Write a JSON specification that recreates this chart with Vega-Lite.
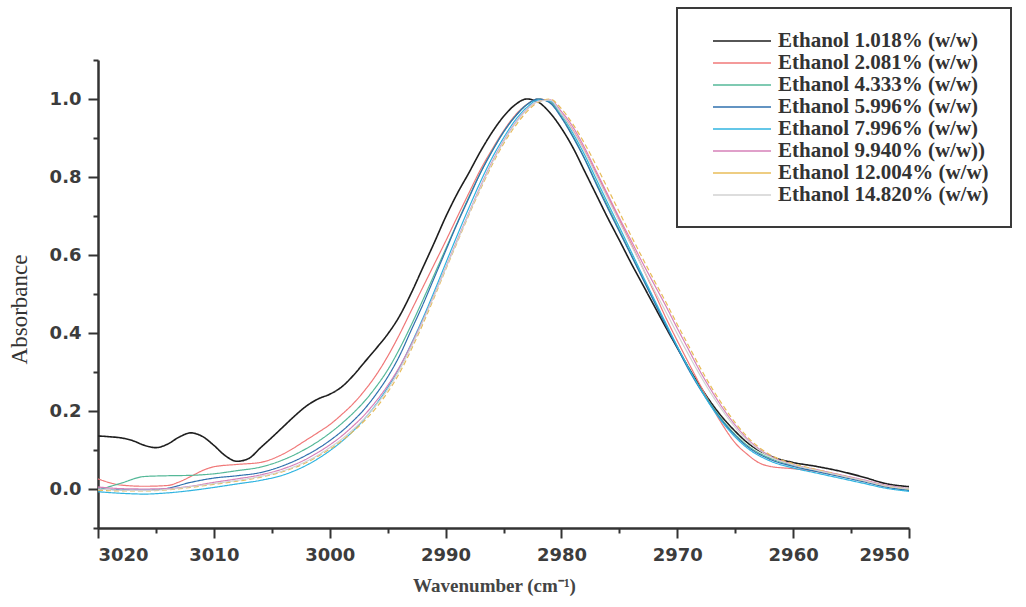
{
"$schema":"https://vega.github.io/schema/vega-lite/v6.json",
"width":811,"height":468,
"autosize":{"type":"none"},
"padding":{"left":98,"top":60,"right":117,"bottom":79},
"background":"white",
"config":{"view":{"stroke":null},"legend":{"strokeWidth":2}},
"data":{"values":[
{"w":3020,"s":"Ethanol 1.018% (w/w)","a":0.136},{"w":3019,"s":"Ethanol 1.018% (w/w)","a":0.134},{"w":3018,"s":"Ethanol 1.018% (w/w)","a":0.131},{"w":3017,"s":"Ethanol 1.018% (w/w)","a":0.124},{"w":3016,"s":"Ethanol 1.018% (w/w)","a":0.112},{"w":3015,"s":"Ethanol 1.018% (w/w)","a":0.106},{"w":3014,"s":"Ethanol 1.018% (w/w)","a":0.115},{"w":3013,"s":"Ethanol 1.018% (w/w)","a":0.133},{"w":3012,"s":"Ethanol 1.018% (w/w)","a":0.144},{"w":3011,"s":"Ethanol 1.018% (w/w)","a":0.135},{"w":3010,"s":"Ethanol 1.018% (w/w)","a":0.112},{"w":3009,"s":"Ethanol 1.018% (w/w)","a":0.085},{"w":3008,"s":"Ethanol 1.018% (w/w)","a":0.071},{"w":3007,"s":"Ethanol 1.018% (w/w)","a":0.078},{"w":3006,"s":"Ethanol 1.018% (w/w)","a":0.105},{"w":3005,"s":"Ethanol 1.018% (w/w)","a":0.132},{"w":3004,"s":"Ethanol 1.018% (w/w)","a":0.160},{"w":3003,"s":"Ethanol 1.018% (w/w)","a":0.188},{"w":3002,"s":"Ethanol 1.018% (w/w)","a":0.213},{"w":3001,"s":"Ethanol 1.018% (w/w)","a":0.231},{"w":3000,"s":"Ethanol 1.018% (w/w)","a":0.243},{"w":2999,"s":"Ethanol 1.018% (w/w)","a":0.261},{"w":2998,"s":"Ethanol 1.018% (w/w)","a":0.290},{"w":2997,"s":"Ethanol 1.018% (w/w)","a":0.325},{"w":2996,"s":"Ethanol 1.018% (w/w)","a":0.360},{"w":2995,"s":"Ethanol 1.018% (w/w)","a":0.397},{"w":2994,"s":"Ethanol 1.018% (w/w)","a":0.442},{"w":2993,"s":"Ethanol 1.018% (w/w)","a":0.500},{"w":2992,"s":"Ethanol 1.018% (w/w)","a":0.565},{"w":2991,"s":"Ethanol 1.018% (w/w)","a":0.630},{"w":2990,"s":"Ethanol 1.018% (w/w)","a":0.697},{"w":2989,"s":"Ethanol 1.018% (w/w)","a":0.757},{"w":2988,"s":"Ethanol 1.018% (w/w)","a":0.810},{"w":2987,"s":"Ethanol 1.018% (w/w)","a":0.865},{"w":2986,"s":"Ethanol 1.018% (w/w)","a":0.914},{"w":2985,"s":"Ethanol 1.018% (w/w)","a":0.955},{"w":2984,"s":"Ethanol 1.018% (w/w)","a":0.985},{"w":2983,"s":"Ethanol 1.018% (w/w)","a":1.000},{"w":2982,"s":"Ethanol 1.018% (w/w)","a":0.992},{"w":2981,"s":"Ethanol 1.018% (w/w)","a":0.965},{"w":2980,"s":"Ethanol 1.018% (w/w)","a":0.925},{"w":2979,"s":"Ethanol 1.018% (w/w)","a":0.875},{"w":2978,"s":"Ethanol 1.018% (w/w)","a":0.815},{"w":2977,"s":"Ethanol 1.018% (w/w)","a":0.755},{"w":2976,"s":"Ethanol 1.018% (w/w)","a":0.695},{"w":2975,"s":"Ethanol 1.018% (w/w)","a":0.638},{"w":2974,"s":"Ethanol 1.018% (w/w)","a":0.580},{"w":2973,"s":"Ethanol 1.018% (w/w)","a":0.525},{"w":2972,"s":"Ethanol 1.018% (w/w)","a":0.470},{"w":2971,"s":"Ethanol 1.018% (w/w)","a":0.415},{"w":2970,"s":"Ethanol 1.018% (w/w)","a":0.362},{"w":2969,"s":"Ethanol 1.018% (w/w)","a":0.310},{"w":2968,"s":"Ethanol 1.018% (w/w)","a":0.262},{"w":2967,"s":"Ethanol 1.018% (w/w)","a":0.218},{"w":2966,"s":"Ethanol 1.018% (w/w)","a":0.180},{"w":2965,"s":"Ethanol 1.018% (w/w)","a":0.148},{"w":2964,"s":"Ethanol 1.018% (w/w)","a":0.120},{"w":2962,"s":"Ethanol 1.018% (w/w)","a":0.085},{"w":2960,"s":"Ethanol 1.018% (w/w)","a":0.068},{"w":2958,"s":"Ethanol 1.018% (w/w)","a":0.058},{"w":2956,"s":"Ethanol 1.018% (w/w)","a":0.046},{"w":2954,"s":"Ethanol 1.018% (w/w)","a":0.031},{"w":2952,"s":"Ethanol 1.018% (w/w)","a":0.014},{"w":2950,"s":"Ethanol 1.018% (w/w)","a":0.006},
{"w":3020,"s":"Ethanol 2.081% (w/w)","a":0.026},{"w":3018,"s":"Ethanol 2.081% (w/w)","a":0.010},{"w":3016,"s":"Ethanol 2.081% (w/w)","a":0.007},{"w":3014,"s":"Ethanol 2.081% (w/w)","a":0.009},{"w":3013,"s":"Ethanol 2.081% (w/w)","a":0.018},{"w":3012,"s":"Ethanol 2.081% (w/w)","a":0.032},{"w":3011,"s":"Ethanol 2.081% (w/w)","a":0.047},{"w":3010,"s":"Ethanol 2.081% (w/w)","a":0.057},{"w":3008,"s":"Ethanol 2.081% (w/w)","a":0.063},{"w":3006,"s":"Ethanol 2.081% (w/w)","a":0.068},{"w":3004,"s":"Ethanol 2.081% (w/w)","a":0.090},{"w":3002,"s":"Ethanol 2.081% (w/w)","a":0.126},{"w":3001,"s":"Ethanol 2.081% (w/w)","a":0.145},{"w":3000,"s":"Ethanol 2.081% (w/w)","a":0.165},{"w":2999,"s":"Ethanol 2.081% (w/w)","a":0.190},{"w":2998,"s":"Ethanol 2.081% (w/w)","a":0.218},{"w":2997,"s":"Ethanol 2.081% (w/w)","a":0.252},{"w":2996,"s":"Ethanol 2.081% (w/w)","a":0.292},{"w":2995,"s":"Ethanol 2.081% (w/w)","a":0.340},{"w":2994,"s":"Ethanol 2.081% (w/w)","a":0.395},{"w":2993,"s":"Ethanol 2.081% (w/w)","a":0.455},{"w":2992,"s":"Ethanol 2.081% (w/w)","a":0.515},{"w":2991,"s":"Ethanol 2.081% (w/w)","a":0.575},{"w":2990,"s":"Ethanol 2.081% (w/w)","a":0.635},{"w":2989,"s":"Ethanol 2.081% (w/w)","a":0.697},{"w":2988,"s":"Ethanol 2.081% (w/w)","a":0.758},{"w":2987,"s":"Ethanol 2.081% (w/w)","a":0.818},{"w":2986,"s":"Ethanol 2.081% (w/w)","a":0.870},{"w":2985,"s":"Ethanol 2.081% (w/w)","a":0.918},{"w":2984,"s":"Ethanol 2.081% (w/w)","a":0.958},{"w":2983,"s":"Ethanol 2.081% (w/w)","a":0.986},{"w":2982,"s":"Ethanol 2.081% (w/w)","a":1.000},{"w":2981,"s":"Ethanol 2.081% (w/w)","a":0.993},{"w":2980,"s":"Ethanol 2.081% (w/w)","a":0.962},{"w":2979,"s":"Ethanol 2.081% (w/w)","a":0.920},{"w":2978,"s":"Ethanol 2.081% (w/w)","a":0.868},{"w":2977,"s":"Ethanol 2.081% (w/w)","a":0.810},{"w":2976,"s":"Ethanol 2.081% (w/w)","a":0.750},{"w":2975,"s":"Ethanol 2.081% (w/w)","a":0.690},{"w":2974,"s":"Ethanol 2.081% (w/w)","a":0.630},{"w":2973,"s":"Ethanol 2.081% (w/w)","a":0.568},{"w":2972,"s":"Ethanol 2.081% (w/w)","a":0.505},{"w":2971,"s":"Ethanol 2.081% (w/w)","a":0.440},{"w":2970,"s":"Ethanol 2.081% (w/w)","a":0.380},{"w":2969,"s":"Ethanol 2.081% (w/w)","a":0.322},{"w":2968,"s":"Ethanol 2.081% (w/w)","a":0.265},{"w":2967,"s":"Ethanol 2.081% (w/w)","a":0.210},{"w":2966,"s":"Ethanol 2.081% (w/w)","a":0.160},{"w":2965,"s":"Ethanol 2.081% (w/w)","a":0.118},{"w":2964,"s":"Ethanol 2.081% (w/w)","a":0.090},{"w":2963,"s":"Ethanol 2.081% (w/w)","a":0.068},{"w":2962,"s":"Ethanol 2.081% (w/w)","a":0.058},{"w":2960,"s":"Ethanol 2.081% (w/w)","a":0.052},{"w":2958,"s":"Ethanol 2.081% (w/w)","a":0.045},{"w":2956,"s":"Ethanol 2.081% (w/w)","a":0.034},{"w":2954,"s":"Ethanol 2.081% (w/w)","a":0.021},{"w":2952,"s":"Ethanol 2.081% (w/w)","a":0.007},{"w":2950,"s":"Ethanol 2.081% (w/w)","a":0.000},
{"w":3020,"s":"Ethanol 4.333% (w/w)","a":-0.003},{"w":3018,"s":"Ethanol 4.333% (w/w)","a":0.015},{"w":3016,"s":"Ethanol 4.333% (w/w)","a":0.032},{"w":3014,"s":"Ethanol 4.333% (w/w)","a":0.034},{"w":3012,"s":"Ethanol 4.333% (w/w)","a":0.035},{"w":3010,"s":"Ethanol 4.333% (w/w)","a":0.039},{"w":3008,"s":"Ethanol 4.333% (w/w)","a":0.047},{"w":3006,"s":"Ethanol 4.333% (w/w)","a":0.056},{"w":3004,"s":"Ethanol 4.333% (w/w)","a":0.075},{"w":3002,"s":"Ethanol 4.333% (w/w)","a":0.104},{"w":3001,"s":"Ethanol 4.333% (w/w)","a":0.122},{"w":3000,"s":"Ethanol 4.333% (w/w)","a":0.143},{"w":2999,"s":"Ethanol 4.333% (w/w)","a":0.167},{"w":2998,"s":"Ethanol 4.333% (w/w)","a":0.194},{"w":2997,"s":"Ethanol 4.333% (w/w)","a":0.225},{"w":2996,"s":"Ethanol 4.333% (w/w)","a":0.262},{"w":2995,"s":"Ethanol 4.333% (w/w)","a":0.305},{"w":2994,"s":"Ethanol 4.333% (w/w)","a":0.358},{"w":2993,"s":"Ethanol 4.333% (w/w)","a":0.418},{"w":2992,"s":"Ethanol 4.333% (w/w)","a":0.482},{"w":2991,"s":"Ethanol 4.333% (w/w)","a":0.548},{"w":2990,"s":"Ethanol 4.333% (w/w)","a":0.615},{"w":2989,"s":"Ethanol 4.333% (w/w)","a":0.682},{"w":2988,"s":"Ethanol 4.333% (w/w)","a":0.748},{"w":2987,"s":"Ethanol 4.333% (w/w)","a":0.810},{"w":2986,"s":"Ethanol 4.333% (w/w)","a":0.866},{"w":2985,"s":"Ethanol 4.333% (w/w)","a":0.915},{"w":2984,"s":"Ethanol 4.333% (w/w)","a":0.955},{"w":2983,"s":"Ethanol 4.333% (w/w)","a":0.985},{"w":2982,"s":"Ethanol 4.333% (w/w)","a":1.000},{"w":2981,"s":"Ethanol 4.333% (w/w)","a":0.992},{"w":2980,"s":"Ethanol 4.333% (w/w)","a":0.955},{"w":2979,"s":"Ethanol 4.333% (w/w)","a":0.905},{"w":2978,"s":"Ethanol 4.333% (w/w)","a":0.848},{"w":2977,"s":"Ethanol 4.333% (w/w)","a":0.786},{"w":2976,"s":"Ethanol 4.333% (w/w)","a":0.725},{"w":2975,"s":"Ethanol 4.333% (w/w)","a":0.664},{"w":2974,"s":"Ethanol 4.333% (w/w)","a":0.603},{"w":2973,"s":"Ethanol 4.333% (w/w)","a":0.543},{"w":2972,"s":"Ethanol 4.333% (w/w)","a":0.483},{"w":2971,"s":"Ethanol 4.333% (w/w)","a":0.423},{"w":2970,"s":"Ethanol 4.333% (w/w)","a":0.365},{"w":2969,"s":"Ethanol 4.333% (w/w)","a":0.309},{"w":2968,"s":"Ethanol 4.333% (w/w)","a":0.258},{"w":2967,"s":"Ethanol 4.333% (w/w)","a":0.213},{"w":2966,"s":"Ethanol 4.333% (w/w)","a":0.173},{"w":2965,"s":"Ethanol 4.333% (w/w)","a":0.140},{"w":2964,"s":"Ethanol 4.333% (w/w)","a":0.113},{"w":2962,"s":"Ethanol 4.333% (w/w)","a":0.079},{"w":2960,"s":"Ethanol 4.333% (w/w)","a":0.061},{"w":2958,"s":"Ethanol 4.333% (w/w)","a":0.048},{"w":2956,"s":"Ethanol 4.333% (w/w)","a":0.035},{"w":2954,"s":"Ethanol 4.333% (w/w)","a":0.022},{"w":2952,"s":"Ethanol 4.333% (w/w)","a":0.008},{"w":2950,"s":"Ethanol 4.333% (w/w)","a":-0.002},
{"w":3020,"s":"Ethanol 5.996% (w/w)","a":0.000},{"w":3018,"s":"Ethanol 5.996% (w/w)","a":-0.002},{"w":3016,"s":"Ethanol 5.996% (w/w)","a":-0.003},{"w":3014,"s":"Ethanol 5.996% (w/w)","a":0.002},{"w":3012,"s":"Ethanol 5.996% (w/w)","a":0.017},{"w":3010,"s":"Ethanol 5.996% (w/w)","a":0.028},{"w":3008,"s":"Ethanol 5.996% (w/w)","a":0.034},{"w":3006,"s":"Ethanol 5.996% (w/w)","a":0.042},{"w":3004,"s":"Ethanol 5.996% (w/w)","a":0.060},{"w":3002,"s":"Ethanol 5.996% (w/w)","a":0.087},{"w":3001,"s":"Ethanol 5.996% (w/w)","a":0.104},{"w":3000,"s":"Ethanol 5.996% (w/w)","a":0.124},{"w":2999,"s":"Ethanol 5.996% (w/w)","a":0.147},{"w":2998,"s":"Ethanol 5.996% (w/w)","a":0.174},{"w":2997,"s":"Ethanol 5.996% (w/w)","a":0.205},{"w":2996,"s":"Ethanol 5.996% (w/w)","a":0.243},{"w":2995,"s":"Ethanol 5.996% (w/w)","a":0.287},{"w":2994,"s":"Ethanol 5.996% (w/w)","a":0.340},{"w":2993,"s":"Ethanol 5.996% (w/w)","a":0.405},{"w":2992,"s":"Ethanol 5.996% (w/w)","a":0.470},{"w":2991,"s":"Ethanol 5.996% (w/w)","a":0.540},{"w":2990,"s":"Ethanol 5.996% (w/w)","a":0.610},{"w":2989,"s":"Ethanol 5.996% (w/w)","a":0.680},{"w":2988,"s":"Ethanol 5.996% (w/w)","a":0.745},{"w":2987,"s":"Ethanol 5.996% (w/w)","a":0.810},{"w":2986,"s":"Ethanol 5.996% (w/w)","a":0.865},{"w":2985,"s":"Ethanol 5.996% (w/w)","a":0.915},{"w":2984,"s":"Ethanol 5.996% (w/w)","a":0.955},{"w":2983,"s":"Ethanol 5.996% (w/w)","a":0.985},{"w":2982,"s":"Ethanol 5.996% (w/w)","a":1.000},{"w":2981,"s":"Ethanol 5.996% (w/w)","a":0.990},{"w":2980,"s":"Ethanol 5.996% (w/w)","a":0.952},{"w":2979,"s":"Ethanol 5.996% (w/w)","a":0.902},{"w":2978,"s":"Ethanol 5.996% (w/w)","a":0.846},{"w":2977,"s":"Ethanol 5.996% (w/w)","a":0.782},{"w":2976,"s":"Ethanol 5.996% (w/w)","a":0.720},{"w":2975,"s":"Ethanol 5.996% (w/w)","a":0.660},{"w":2974,"s":"Ethanol 5.996% (w/w)","a":0.600},{"w":2973,"s":"Ethanol 5.996% (w/w)","a":0.540},{"w":2972,"s":"Ethanol 5.996% (w/w)","a":0.480},{"w":2971,"s":"Ethanol 5.996% (w/w)","a":0.420},{"w":2970,"s":"Ethanol 5.996% (w/w)","a":0.362},{"w":2969,"s":"Ethanol 5.996% (w/w)","a":0.305},{"w":2968,"s":"Ethanol 5.996% (w/w)","a":0.255},{"w":2967,"s":"Ethanol 5.996% (w/w)","a":0.210},{"w":2966,"s":"Ethanol 5.996% (w/w)","a":0.170},{"w":2965,"s":"Ethanol 5.996% (w/w)","a":0.137},{"w":2964,"s":"Ethanol 5.996% (w/w)","a":0.110},{"w":2962,"s":"Ethanol 5.996% (w/w)","a":0.076},{"w":2960,"s":"Ethanol 5.996% (w/w)","a":0.058},{"w":2958,"s":"Ethanol 5.996% (w/w)","a":0.045},{"w":2956,"s":"Ethanol 5.996% (w/w)","a":0.032},{"w":2954,"s":"Ethanol 5.996% (w/w)","a":0.019},{"w":2952,"s":"Ethanol 5.996% (w/w)","a":0.005},{"w":2950,"s":"Ethanol 5.996% (w/w)","a":-0.004},
{"w":3020,"s":"Ethanol 7.996% (w/w)","a":-0.007},{"w":3018,"s":"Ethanol 7.996% (w/w)","a":-0.011},{"w":3016,"s":"Ethanol 7.996% (w/w)","a":-0.013},{"w":3014,"s":"Ethanol 7.996% (w/w)","a":-0.010},{"w":3012,"s":"Ethanol 7.996% (w/w)","a":-0.004},{"w":3010,"s":"Ethanol 7.996% (w/w)","a":0.004},{"w":3008,"s":"Ethanol 7.996% (w/w)","a":0.013},{"w":3006,"s":"Ethanol 7.996% (w/w)","a":0.022},{"w":3004,"s":"Ethanol 7.996% (w/w)","a":0.036},{"w":3002,"s":"Ethanol 7.996% (w/w)","a":0.061},{"w":3001,"s":"Ethanol 7.996% (w/w)","a":0.078},{"w":3000,"s":"Ethanol 7.996% (w/w)","a":0.098},{"w":2999,"s":"Ethanol 7.996% (w/w)","a":0.121},{"w":2998,"s":"Ethanol 7.996% (w/w)","a":0.148},{"w":2997,"s":"Ethanol 7.996% (w/w)","a":0.180},{"w":2996,"s":"Ethanol 7.996% (w/w)","a":0.217},{"w":2995,"s":"Ethanol 7.996% (w/w)","a":0.260},{"w":2994,"s":"Ethanol 7.996% (w/w)","a":0.310},{"w":2993,"s":"Ethanol 7.996% (w/w)","a":0.370},{"w":2992,"s":"Ethanol 7.996% (w/w)","a":0.435},{"w":2991,"s":"Ethanol 7.996% (w/w)","a":0.505},{"w":2990,"s":"Ethanol 7.996% (w/w)","a":0.578},{"w":2989,"s":"Ethanol 7.996% (w/w)","a":0.650},{"w":2988,"s":"Ethanol 7.996% (w/w)","a":0.720},{"w":2987,"s":"Ethanol 7.996% (w/w)","a":0.787},{"w":2986,"s":"Ethanol 7.996% (w/w)","a":0.848},{"w":2985,"s":"Ethanol 7.996% (w/w)","a":0.900},{"w":2984,"s":"Ethanol 7.996% (w/w)","a":0.945},{"w":2983,"s":"Ethanol 7.996% (w/w)","a":0.978},{"w":2982,"s":"Ethanol 7.996% (w/w)","a":0.997},{"w":2981,"s":"Ethanol 7.996% (w/w)","a":0.995},{"w":2980,"s":"Ethanol 7.996% (w/w)","a":0.960},{"w":2979,"s":"Ethanol 7.996% (w/w)","a":0.912},{"w":2978,"s":"Ethanol 7.996% (w/w)","a":0.857},{"w":2977,"s":"Ethanol 7.996% (w/w)","a":0.795},{"w":2976,"s":"Ethanol 7.996% (w/w)","a":0.733},{"w":2975,"s":"Ethanol 7.996% (w/w)","a":0.672},{"w":2974,"s":"Ethanol 7.996% (w/w)","a":0.610},{"w":2973,"s":"Ethanol 7.996% (w/w)","a":0.548},{"w":2972,"s":"Ethanol 7.996% (w/w)","a":0.487},{"w":2971,"s":"Ethanol 7.996% (w/w)","a":0.426},{"w":2970,"s":"Ethanol 7.996% (w/w)","a":0.366},{"w":2969,"s":"Ethanol 7.996% (w/w)","a":0.309},{"w":2968,"s":"Ethanol 7.996% (w/w)","a":0.256},{"w":2967,"s":"Ethanol 7.996% (w/w)","a":0.208},{"w":2966,"s":"Ethanol 7.996% (w/w)","a":0.167},{"w":2965,"s":"Ethanol 7.996% (w/w)","a":0.133},{"w":2964,"s":"Ethanol 7.996% (w/w)","a":0.106},{"w":2962,"s":"Ethanol 7.996% (w/w)","a":0.072},{"w":2960,"s":"Ethanol 7.996% (w/w)","a":0.054},{"w":2958,"s":"Ethanol 7.996% (w/w)","a":0.041},{"w":2956,"s":"Ethanol 7.996% (w/w)","a":0.028},{"w":2954,"s":"Ethanol 7.996% (w/w)","a":0.015},{"w":2952,"s":"Ethanol 7.996% (w/w)","a":0.002},{"w":2950,"s":"Ethanol 7.996% (w/w)","a":-0.006},
{"w":3020,"s":"Ethanol 9.940% (w/w))","a":0.005},{"w":3018,"s":"Ethanol 9.940% (w/w))","a":0.001},{"w":3016,"s":"Ethanol 9.940% (w/w))","a":0.000},{"w":3014,"s":"Ethanol 9.940% (w/w))","a":0.001},{"w":3012,"s":"Ethanol 9.940% (w/w))","a":0.007},{"w":3010,"s":"Ethanol 9.940% (w/w))","a":0.017},{"w":3008,"s":"Ethanol 9.940% (w/w))","a":0.026},{"w":3006,"s":"Ethanol 9.940% (w/w))","a":0.036},{"w":3004,"s":"Ethanol 9.940% (w/w))","a":0.052},{"w":3002,"s":"Ethanol 9.940% (w/w))","a":0.077},{"w":3001,"s":"Ethanol 9.940% (w/w))","a":0.094},{"w":3000,"s":"Ethanol 9.940% (w/w))","a":0.113},{"w":2999,"s":"Ethanol 9.940% (w/w))","a":0.135},{"w":2998,"s":"Ethanol 9.940% (w/w))","a":0.161},{"w":2997,"s":"Ethanol 9.940% (w/w))","a":0.190},{"w":2996,"s":"Ethanol 9.940% (w/w))","a":0.225},{"w":2995,"s":"Ethanol 9.940% (w/w))","a":0.265},{"w":2994,"s":"Ethanol 9.940% (w/w))","a":0.312},{"w":2993,"s":"Ethanol 9.940% (w/w))","a":0.368},{"w":2992,"s":"Ethanol 9.940% (w/w))","a":0.430},{"w":2991,"s":"Ethanol 9.940% (w/w))","a":0.497},{"w":2990,"s":"Ethanol 9.940% (w/w))","a":0.567},{"w":2989,"s":"Ethanol 9.940% (w/w))","a":0.638},{"w":2988,"s":"Ethanol 9.940% (w/w))","a":0.707},{"w":2987,"s":"Ethanol 9.940% (w/w))","a":0.775},{"w":2986,"s":"Ethanol 9.940% (w/w))","a":0.838},{"w":2985,"s":"Ethanol 9.940% (w/w))","a":0.892},{"w":2984,"s":"Ethanol 9.940% (w/w))","a":0.938},{"w":2983,"s":"Ethanol 9.940% (w/w))","a":0.973},{"w":2982,"s":"Ethanol 9.940% (w/w))","a":0.994},{"w":2981,"s":"Ethanol 9.940% (w/w))","a":0.998},{"w":2980,"s":"Ethanol 9.940% (w/w))","a":0.968},{"w":2979,"s":"Ethanol 9.940% (w/w))","a":0.928},{"w":2978,"s":"Ethanol 9.940% (w/w))","a":0.875},{"w":2977,"s":"Ethanol 9.940% (w/w))","a":0.815},{"w":2976,"s":"Ethanol 9.940% (w/w))","a":0.755},{"w":2975,"s":"Ethanol 9.940% (w/w))","a":0.695},{"w":2974,"s":"Ethanol 9.940% (w/w))","a":0.638},{"w":2973,"s":"Ethanol 9.940% (w/w))","a":0.580},{"w":2972,"s":"Ethanol 9.940% (w/w))","a":0.525},{"w":2971,"s":"Ethanol 9.940% (w/w))","a":0.470},{"w":2970,"s":"Ethanol 9.940% (w/w))","a":0.412},{"w":2969,"s":"Ethanol 9.940% (w/w))","a":0.356},{"w":2968,"s":"Ethanol 9.940% (w/w))","a":0.300},{"w":2967,"s":"Ethanol 9.940% (w/w))","a":0.250},{"w":2966,"s":"Ethanol 9.940% (w/w))","a":0.204},{"w":2965,"s":"Ethanol 9.940% (w/w))","a":0.164},{"w":2964,"s":"Ethanol 9.940% (w/w))","a":0.130},{"w":2962,"s":"Ethanol 9.940% (w/w))","a":0.085},{"w":2960,"s":"Ethanol 9.940% (w/w))","a":0.063},{"w":2958,"s":"Ethanol 9.940% (w/w))","a":0.050},{"w":2956,"s":"Ethanol 9.940% (w/w))","a":0.037},{"w":2954,"s":"Ethanol 9.940% (w/w))","a":0.024},{"w":2952,"s":"Ethanol 9.940% (w/w))","a":0.010},{"w":2950,"s":"Ethanol 9.940% (w/w))","a":0.001},
{"w":3020,"s":"Ethanol 12.004% (w/w)","a":-0.003},{"w":3018,"s":"Ethanol 12.004% (w/w)","a":-0.005},{"w":3016,"s":"Ethanol 12.004% (w/w)","a":-0.005},{"w":3014,"s":"Ethanol 12.004% (w/w)","a":-0.002},{"w":3012,"s":"Ethanol 12.004% (w/w)","a":0.004},{"w":3010,"s":"Ethanol 12.004% (w/w)","a":0.012},{"w":3008,"s":"Ethanol 12.004% (w/w)","a":0.020},{"w":3006,"s":"Ethanol 12.004% (w/w)","a":0.030},{"w":3004,"s":"Ethanol 12.004% (w/w)","a":0.045},{"w":3002,"s":"Ethanol 12.004% (w/w)","a":0.068},{"w":3001,"s":"Ethanol 12.004% (w/w)","a":0.084},{"w":3000,"s":"Ethanol 12.004% (w/w)","a":0.102},{"w":2999,"s":"Ethanol 12.004% (w/w)","a":0.123},{"w":2998,"s":"Ethanol 12.004% (w/w)","a":0.147},{"w":2997,"s":"Ethanol 12.004% (w/w)","a":0.175},{"w":2996,"s":"Ethanol 12.004% (w/w)","a":0.208},{"w":2995,"s":"Ethanol 12.004% (w/w)","a":0.248},{"w":2994,"s":"Ethanol 12.004% (w/w)","a":0.296},{"w":2993,"s":"Ethanol 12.004% (w/w)","a":0.355},{"w":2992,"s":"Ethanol 12.004% (w/w)","a":0.420},{"w":2991,"s":"Ethanol 12.004% (w/w)","a":0.490},{"w":2990,"s":"Ethanol 12.004% (w/w)","a":0.562},{"w":2989,"s":"Ethanol 12.004% (w/w)","a":0.632},{"w":2988,"s":"Ethanol 12.004% (w/w)","a":0.702},{"w":2987,"s":"Ethanol 12.004% (w/w)","a":0.768},{"w":2986,"s":"Ethanol 12.004% (w/w)","a":0.830},{"w":2985,"s":"Ethanol 12.004% (w/w)","a":0.885},{"w":2984,"s":"Ethanol 12.004% (w/w)","a":0.930},{"w":2983,"s":"Ethanol 12.004% (w/w)","a":0.967},{"w":2982,"s":"Ethanol 12.004% (w/w)","a":0.992},{"w":2981,"s":"Ethanol 12.004% (w/w)","a":1.000},{"w":2980,"s":"Ethanol 12.004% (w/w)","a":0.975},{"w":2979,"s":"Ethanol 12.004% (w/w)","a":0.935},{"w":2978,"s":"Ethanol 12.004% (w/w)","a":0.886},{"w":2977,"s":"Ethanol 12.004% (w/w)","a":0.830},{"w":2976,"s":"Ethanol 12.004% (w/w)","a":0.770},{"w":2975,"s":"Ethanol 12.004% (w/w)","a":0.710},{"w":2974,"s":"Ethanol 12.004% (w/w)","a":0.650},{"w":2973,"s":"Ethanol 12.004% (w/w)","a":0.592},{"w":2972,"s":"Ethanol 12.004% (w/w)","a":0.535},{"w":2971,"s":"Ethanol 12.004% (w/w)","a":0.480},{"w":2970,"s":"Ethanol 12.004% (w/w)","a":0.422},{"w":2969,"s":"Ethanol 12.004% (w/w)","a":0.366},{"w":2968,"s":"Ethanol 12.004% (w/w)","a":0.310},{"w":2967,"s":"Ethanol 12.004% (w/w)","a":0.258},{"w":2966,"s":"Ethanol 12.004% (w/w)","a":0.212},{"w":2965,"s":"Ethanol 12.004% (w/w)","a":0.170},{"w":2964,"s":"Ethanol 12.004% (w/w)","a":0.135},{"w":2962,"s":"Ethanol 12.004% (w/w)","a":0.088},{"w":2960,"s":"Ethanol 12.004% (w/w)","a":0.065},{"w":2958,"s":"Ethanol 12.004% (w/w)","a":0.050},{"w":2956,"s":"Ethanol 12.004% (w/w)","a":0.036},{"w":2954,"s":"Ethanol 12.004% (w/w)","a":0.022},{"w":2952,"s":"Ethanol 12.004% (w/w)","a":0.008},{"w":2950,"s":"Ethanol 12.004% (w/w)","a":0.000},
{"w":3020,"s":"Ethanol 14.820% (w/w)","a":0.000},{"w":3018,"s":"Ethanol 14.820% (w/w)","a":-0.003},{"w":3016,"s":"Ethanol 14.820% (w/w)","a":-0.004},{"w":3014,"s":"Ethanol 14.820% (w/w)","a":-0.001},{"w":3012,"s":"Ethanol 14.820% (w/w)","a":0.006},{"w":3010,"s":"Ethanol 14.820% (w/w)","a":0.014},{"w":3008,"s":"Ethanol 14.820% (w/w)","a":0.022},{"w":3006,"s":"Ethanol 14.820% (w/w)","a":0.032},{"w":3004,"s":"Ethanol 14.820% (w/w)","a":0.047},{"w":3002,"s":"Ethanol 14.820% (w/w)","a":0.071},{"w":3001,"s":"Ethanol 14.820% (w/w)","a":0.087},{"w":3000,"s":"Ethanol 14.820% (w/w)","a":0.106},{"w":2999,"s":"Ethanol 14.820% (w/w)","a":0.127},{"w":2998,"s":"Ethanol 14.820% (w/w)","a":0.152},{"w":2997,"s":"Ethanol 14.820% (w/w)","a":0.181},{"w":2996,"s":"Ethanol 14.820% (w/w)","a":0.215},{"w":2995,"s":"Ethanol 14.820% (w/w)","a":0.255},{"w":2994,"s":"Ethanol 14.820% (w/w)","a":0.304},{"w":2993,"s":"Ethanol 14.820% (w/w)","a":0.362},{"w":2992,"s":"Ethanol 14.820% (w/w)","a":0.427},{"w":2991,"s":"Ethanol 14.820% (w/w)","a":0.495},{"w":2990,"s":"Ethanol 14.820% (w/w)","a":0.565},{"w":2989,"s":"Ethanol 14.820% (w/w)","a":0.635},{"w":2988,"s":"Ethanol 14.820% (w/w)","a":0.705},{"w":2987,"s":"Ethanol 14.820% (w/w)","a":0.772},{"w":2986,"s":"Ethanol 14.820% (w/w)","a":0.835},{"w":2985,"s":"Ethanol 14.820% (w/w)","a":0.890},{"w":2984,"s":"Ethanol 14.820% (w/w)","a":0.936},{"w":2983,"s":"Ethanol 14.820% (w/w)","a":0.972},{"w":2982,"s":"Ethanol 14.820% (w/w)","a":0.994},{"w":2981,"s":"Ethanol 14.820% (w/w)","a":0.997},{"w":2980,"s":"Ethanol 14.820% (w/w)","a":0.962},{"w":2979,"s":"Ethanol 14.820% (w/w)","a":0.918},{"w":2978,"s":"Ethanol 14.820% (w/w)","a":0.865},{"w":2977,"s":"Ethanol 14.820% (w/w)","a":0.805},{"w":2976,"s":"Ethanol 14.820% (w/w)","a":0.745},{"w":2975,"s":"Ethanol 14.820% (w/w)","a":0.685},{"w":2974,"s":"Ethanol 14.820% (w/w)","a":0.626},{"w":2973,"s":"Ethanol 14.820% (w/w)","a":0.568},{"w":2972,"s":"Ethanol 14.820% (w/w)","a":0.511},{"w":2971,"s":"Ethanol 14.820% (w/w)","a":0.455},{"w":2970,"s":"Ethanol 14.820% (w/w)","a":0.398},{"w":2969,"s":"Ethanol 14.820% (w/w)","a":0.343},{"w":2968,"s":"Ethanol 14.820% (w/w)","a":0.290},{"w":2967,"s":"Ethanol 14.820% (w/w)","a":0.241},{"w":2966,"s":"Ethanol 14.820% (w/w)","a":0.197},{"w":2965,"s":"Ethanol 14.820% (w/w)","a":0.158},{"w":2964,"s":"Ethanol 14.820% (w/w)","a":0.126},{"w":2962,"s":"Ethanol 14.820% (w/w)","a":0.083},{"w":2960,"s":"Ethanol 14.820% (w/w)","a":0.062},{"w":2958,"s":"Ethanol 14.820% (w/w)","a":0.048},{"w":2956,"s":"Ethanol 14.820% (w/w)","a":0.035},{"w":2954,"s":"Ethanol 14.820% (w/w)","a":0.022},{"w":2952,"s":"Ethanol 14.820% (w/w)","a":0.008},{"w":2950,"s":"Ethanol 14.820% (w/w)","a":0.000}
]},
"mark":{"type":"line","interpolate":"monotone"},
"encoding":{
"x":{"field":"w","type":"quantitative","title":"Wavenumber (cm⁻¹)",
 "scale":{"domain":[2950,3020],"reverse":true,"nice":false,"zero":false},
 "axis":{"values":[3020,3015,3010,3005,3000,2995,2990,2985,2980,2975,2970,2965,2960,2955,2950],"format":"d",
  "labelExpr":"datum.value % 10 == 0 ? datum.label : ''",
  "tickSize":{"condition":{"test":"datum.value % 10 == 0","value":10},"value":5},
  "grid":false,"domainColor":"#333","domainWidth":2.5,"tickColor":"#333","tickWidth":2,
  "labelFont":"DejaVu Sans","labelFontWeight":"bold","labelFontSize":18,"labelColor":"#3c3c3c","labelPadding":8,
  "titleFont":"Liberation Serif","titleFontWeight":"bold","titleFontSize":19,"titleColor":"#444","titlePadding":12,"titleX":396}},
"y":{"field":"a","type":"quantitative","title":"Absorbance",
 "scale":{"domain":[-0.1,1.1],"nice":false,"zero":false},
 "axis":{"values":[-0.1,0,0.1,0.2,0.3,0.4,0.5,0.6,0.7,0.8,0.9,1.0,1.1],"format":".1f",
  "labelExpr":"(abs(round(datum.value*10)) % 2 == 0 && datum.value > -0.05 && datum.value < 1.05) ? datum.label : ''",
  "tickSize":{"condition":{"test":"abs(round(datum.value*10)) % 2 == 0","value":10},"value":5},
  "grid":false,"domainColor":"#333","domainWidth":2.5,"tickColor":"#333","tickWidth":2,
  "labelFont":"DejaVu Sans","labelFontWeight":"bold","labelFontSize":18,"labelColor":"#3c3c3c","labelPadding":7,
  "titleFont":"Liberation Serif","titleFontWeight":"normal","titleFontSize":23,"titleColor":"#333",
  "titleX":-79,"titleY":249,"titleAlign":"center","titleBaseline":"middle","titleAngle":-90}},
"color":{"field":"s","type":"nominal",
 "scale":{"domain":["Ethanol 1.018% (w/w)","Ethanol 2.081% (w/w)","Ethanol 4.333% (w/w)","Ethanol 5.996% (w/w)","Ethanol 7.996% (w/w)","Ethanol 9.940% (w/w))","Ethanol 12.004% (w/w)","Ethanol 14.820% (w/w)"],
  "range":["#1e1e1e","#f07878","#55b898","#2f70ae","#30b4e0","#d680b8","#e8bc58","#d2d2d2"]},
 "legend":{"title":null,"orient":"none","legendX":579,"legendY":-52,"padding":22,"strokeColor":"#3a3a3a","fillColor":"white",
  "symbolType":"M-2.9,0H2.9","symbolSize":400,"symbolStrokeWidth":1.3,"symbolOffset":32,"labelOffset":25,
  "labelFont":"Liberation Serif","labelFontWeight":"bold","labelFontSize":21,"labelColor":"#333","rowPadding":1,"labelLimit":0}},
"strokeDash":{"condition":{"test":"datum.s == 'Ethanol 12.004% (w/w)'","value":[5,3]},"value":[1,0]},
"strokeWidth":{"condition":{"test":"datum.s == 'Ethanol 1.018% (w/w)'","value":1.6},"value":1.2}
}
}
